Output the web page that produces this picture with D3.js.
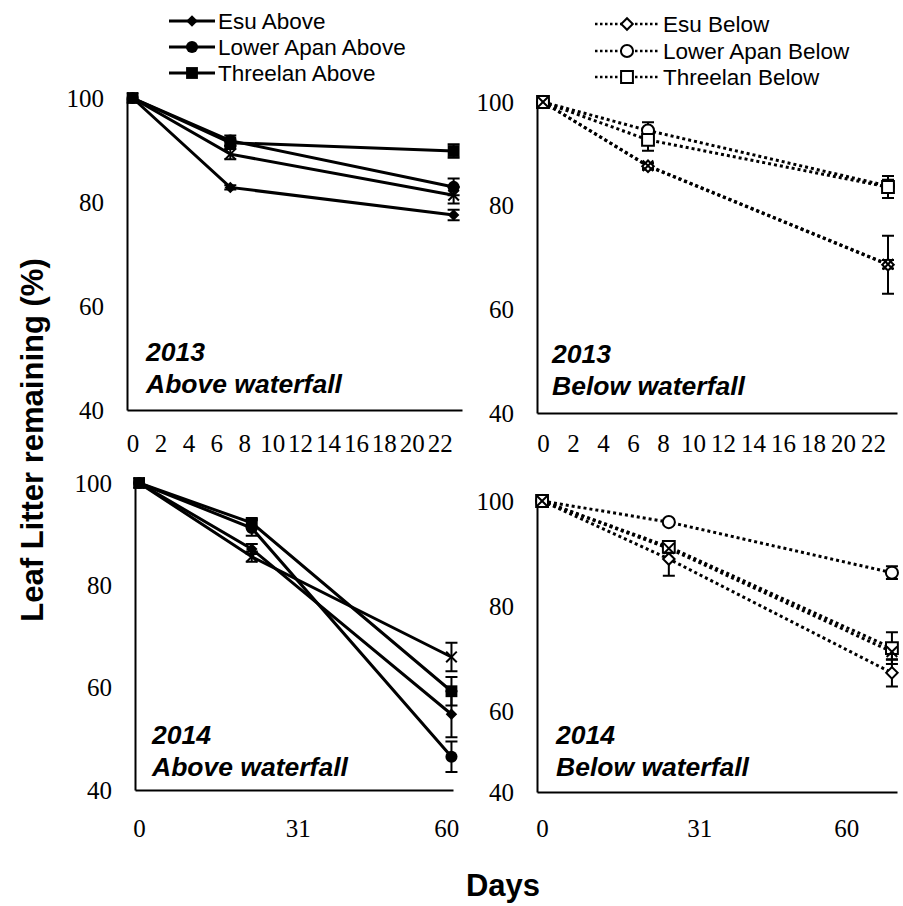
<!DOCTYPE html>
<html>
<head>
<meta charset="utf-8">
<title>Leaf litter remaining</title>
<style>
  body { margin: 0; background: #fff; }
  .tick text { font-family: "Liberation Serif", "Times New Roman", serif; font-size: 25px; fill: #000; }
  .axis path { stroke: #000; stroke-width: 2; }
  .axis line { display: none; }
  .legend text { font-family: "Liberation Sans", Arial, sans-serif; font-size: 22.5px; }
  .note { font-family: "Liberation Sans", Arial, sans-serif; font-size: 26.5px; font-weight: bold; font-style: italic; }
  .title { font-family: "Liberation Sans", Arial, sans-serif; font-size: 31px; font-weight: bold; }
</style>
</head>
<body>
<svg id="chart" width="903" height="906"></svg>
<script src="https://cdn.jsdelivr.net/npm/d3@7"></script>
<script>
// sampling days
const days2013 = [0, 7, 23];
const days2014Above = [0, 22, 61];
const days2014Below = [0, 25, 69];

// 2013, above waterfall
const esuAbove2013 = [100, 82.8, 77.5];
const esuAbove2013Err = [0, 0.4, 1.0];
const apanAbove2013 = [100, 91.8, 82.9];
const apanAbove2013Err = [0, 1.0, 1.6];
const threelanAbove2013 = [100, 91.4, 89.8];
const threelanAbove2013Err = [0, 0.6, 1.3];
const xAbove2013 = [100, 89.2, 81.3];
const xAbove2013Err = [0, 1.0, 1.6];

// 2013, below waterfall
const esuBelow2013 = [100, 87.6, 68.6];
const esuBelow2013Err = [0, 0.6, 5.6];
const apanBelow2013 = [100, 94.5, 83.8];
const apanBelow2013Err = [0, 1.6, 1.2];
const threelanBelow2013 = [100, 92.7, 83.6];
const threelanBelow2013Err = [0, 2.1, 2.1];
const xBelow2013 = [100, 87.7, 68.7];
const xBelow2013Err = [0, 0.5, 0.8];

// 2014, above waterfall
const esuAbove2014 = [100, 87.1, 54.8];
const esuAbove2014Err = [0, 1.0, 4.5];
const apanAbove2014 = [100, 91.2, 46.5];
const apanAbove2014Err = [0, 1.5, 3.0];
const threelanAbove2014 = [100, 92.2, 59.3];
const threelanAbove2014Err = [0, 0.8, 2.8];
const xAbove2014 = [100, 85.6, 66.0];
const xAbove2014Err = [0, 1.0, 2.8];

// 2014, below waterfall
const esuBelow2014 = [100, 89.0, 67.4];
const esuBelow2014Err = [0, 3.2, 2.6];
const apanBelow2014 = [100, 96.0, 86.4];
const apanBelow2014Err = [0, 0.5, 1.2];
const threelanBelow2014 = [100, 91.3, 72.1];
const threelanBelow2014Err = [0, 1.0, 3.0];
const xBelow2014 = [100, 91.0, 71.4];
const xBelow2014Err = [0, 0.8, 1.5];

// axis ticks
const xTicks2013 = [0, 2, 4, 6, 8, 10, 12, 14, 16, 18, 20, 22];
const xTicks2014 = [0, 31, 60];
const yTicks = [40, 60, 80, 100];

const aboveNames = ["Esu Above", "Lower Apan Above", "Threelan Above"];
const belowNames = ["Esu Below", "Lower Apan Below", "Threelan Below"];
const markers = ["diamond", "circle", "square", "x"];

const svg = d3.select("#chart");
svg.append("rect").attr("width", 903).attr("height", 906).attr("fill", "#fff");

function markerPath(type) {
  if (type === "circle") return d3.symbol(d3.symbolCircle, 115)();
  if (type === "square") return d3.symbol(d3.symbolSquare, 140)();
  if (type === "diamond") return d3.symbol(d3.symbolSquare, 66)();
  return d3.symbol(d3.symbolX, 75)();
}

function drawMarker(g, type, open, x, y) {
  const m = g.append("path")
    .attr("d", markerPath(type))
    .attr("transform", `translate(${x},${y})` + (type === "diamond" ? " rotate(45)" : ""));
  if (type === "x") {
    m.attr("fill", "none").attr("stroke", "#000").attr("stroke-width", 2);
  } else if (open) {
    m.attr("fill", "#fff").attr("stroke", "#000").attr("stroke-width", 2);
  } else {
    m.attr("fill", "#000");
  }
}

function panel(opt) {
  const x = d3.scaleLinear().domain(opt.xDomain).range(opt.xRange);
  const y = d3.scaleLinear().domain(opt.yDomain).range(opt.yRange);
  const g = svg.append("g");

  g.append("g").attr("class", "axis")
    .attr("transform", `translate(0,${opt.yRange[0]})`)
    .call(d3.axisBottom(x).tickValues(opt.xTicks).tickSize(0).tickSizeOuter(0).tickPadding(opt.xPad));
  g.append("g").attr("class", "axis")
    .attr("transform", `translate(${opt.xRange[0]},0)`)
    .call(d3.axisLeft(y).tickValues(opt.yTickValues).tickSize(0).tickSizeOuter(0).tickPadding(23)
      .tickFormat((d, i) => yTicks[i]));

  const line = d3.line().x(d => x(d.day)).y(d => y(d.v));
  opt.series.forEach(s => {
    const pts = opt.days.map((d, i) => ({ day: d, v: s.values[i], e: s.err[i] }));
    g.append("path").datum(pts)
      .attr("d", line)
      .attr("fill", "none")
      .attr("stroke", "#000")
      .attr("stroke-width", 3)
      .attr("stroke-dasharray", opt.dotted ? "3,3" : null);
    s.pts = pts;
  });
  opt.series.forEach(s => {
    s.pts.filter(p => p.e > 0).forEach(p => {
      const cx = x(p.day);
      g.append("path")
        .attr("d", `M${cx},${y(p.v - p.e)}V${y(p.v + p.e)}M${cx - 6},${y(p.v - p.e)}H${cx + 6}M${cx - 6},${y(p.v + p.e)}H${cx + 6}`)
        .attr("stroke", "#000").attr("stroke-width", 2).attr("fill", "none");
    });
  });
  opt.series.forEach(s => {
    s.pts.forEach(p => drawMarker(g, s.marker, opt.dotted, x(p.day), y(p.v)));
  });

  g.append("text").attr("class", "note").attr("x", opt.noteX).attr("y", opt.noteY).text(opt.year);
  g.append("text").attr("class", "note").attr("x", opt.noteX).attr("y", opt.noteY + 32).text(opt.place);
}

function series(list, errs) {
  return list.map((v, i) => ({ values: v, err: errs[i], marker: markers[i] }));
}

panel({
  xDomain: [-0.4, 23.6], xRange: [127, 462], yDomain: [40, 100], yRange: [410, 98],
  xTicks: xTicks2013, xPad: 24, yTickValues: yTicks, days: days2013, dotted: false,
  series: series([esuAbove2013, apanAbove2013, threelanAbove2013, xAbove2013],
                 [esuAbove2013Err, apanAbove2013Err, threelanAbove2013Err, xAbove2013Err]),
  noteX: 146, noteY: 361, year: "2013", place: "Above waterfall"
});
panel({
  xDomain: [-0.4, 23.6], xRange: [537, 897], yDomain: [40, 100], yRange: [413, 102],
  xTicks: xTicks2013, xPad: 21, yTickValues: yTicks, days: days2013, dotted: true,
  series: series([esuBelow2013, apanBelow2013, threelanBelow2013, xBelow2013],
                 [esuBelow2013Err, apanBelow2013Err, threelanBelow2013Err, xBelow2013Err]),
  noteX: 552, noteY: 363, year: "2013", place: "Below waterfall"
});
panel({
  xDomain: [-0.8, 61.3], xRange: [135, 453], yDomain: [40, 100], yRange: [790, 483],
  xTicks: xTicks2014, xPad: 29, yTickValues: yTicks, days: days2014Above, dotted: false,
  series: series([esuAbove2014, apanAbove2014, threelanAbove2014, xAbove2014],
                 [esuAbove2014Err, apanAbove2014Err, threelanAbove2014Err, xAbove2014Err]),
  noteX: 152, noteY: 744, year: "2014", place: "Above waterfall"
});
panel({
  xDomain: [-1, 70], xRange: [537, 897], yDomain: [44.8, 100], yRange: [792, 501],
  xTicks: xTicks2014, xPad: 27, yTickValues: [44.8, 60, 80, 100], days: days2014Below, dotted: true,
  series: series([esuBelow2014, apanBelow2014, threelanBelow2014, xBelow2014],
                 [esuBelow2014Err, apanBelow2014Err, threelanBelow2014Err, xBelow2014Err]),
  noteX: 556, noteY: 744, year: "2014", place: "Below waterfall"
});

// legends
function legend(names, x0, x1, tx, ys, open) {
  const g = svg.append("g").attr("class", "legend");
  names.forEach((n, i) => {
    g.append("line").attr("x1", x0).attr("x2", x1).attr("y1", ys[i]).attr("y2", ys[i])
      .attr("stroke", "#000").attr("stroke-width", open ? 2.5 : 3)
      .attr("stroke-dasharray", open ? "2.5,2.5" : null);
    drawMarker(g, markers[i], open, (x0 + x1) / 2, ys[i]);
    g.append("text").attr("x", tx).attr("y", ys[i]).attr("dy", "0.36em").text(n);
  });
}
legend(aboveNames, 169, 215, 218, [21, 47, 73], false);
legend(belowNames, 595, 659, 663, [24, 51, 77], true);

svg.append("text").attr("class", "title")
  .attr("transform", "translate(43,440) rotate(-90)")
  .attr("text-anchor", "middle").text("Leaf Litter remaining (%)");
svg.append("text").attr("class", "title")
  .attr("x", 503).attr("y", 896).attr("text-anchor", "middle").text("Days");
</script>
</body>
</html>
